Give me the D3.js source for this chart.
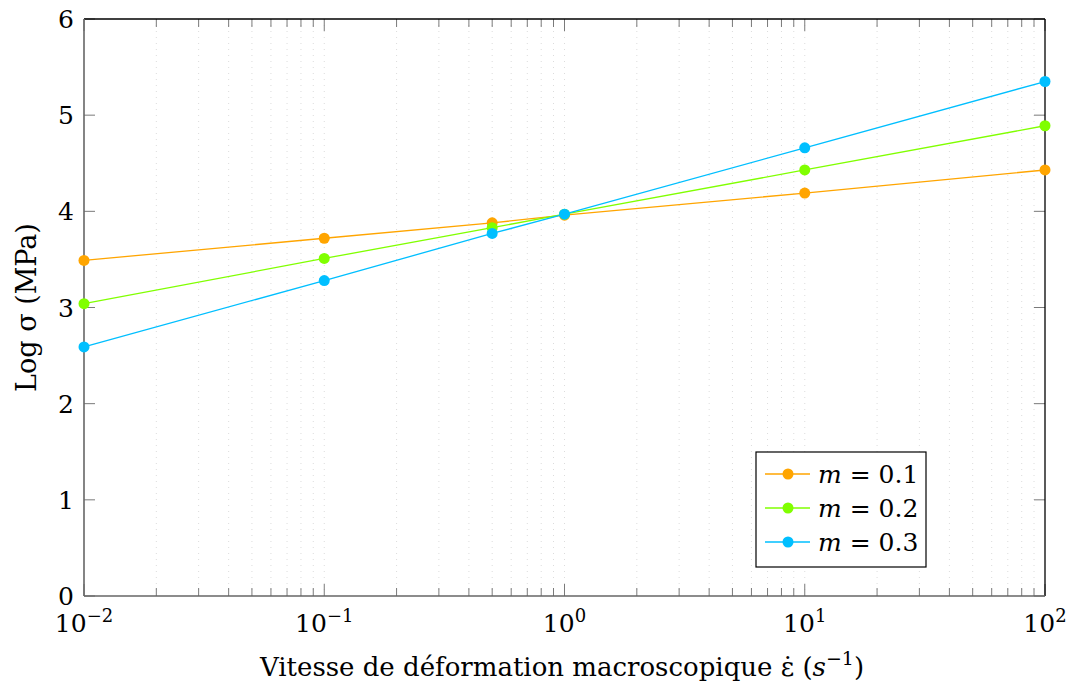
<!DOCTYPE html>
<html lang="fr">
<head>
<meta charset="UTF-8">
<title>Log sigma vs vitesse de deformation</title>
<script src="https://cdn.jsdelivr.net/npm/d3@7"></script>
<style>
  body { margin: 0; background: #fff; }
</style>
</head>
<body>
<div id="chart"></div>
<script>
// data
const strainRates = [0.01, 0.1, 0.5, 1, 10, 100];
const sigmaM01 = [3.49, 3.72, 3.88, 3.96, 4.19, 4.43];
const sigmaM02 = [3.04, 3.51, 3.83, 3.97, 4.43, 4.89];
const sigmaM03 = [2.59, 3.28, 3.77, 3.97, 4.66, 5.35];
const seriesLabels = ["0.1", "0.2", "0.3"];
const seriesColors = ["#ffa500", "#80ff00", "#00bfff"];
const yTicks = [0, 1, 2, 3, 4, 5, 6];
const xDecades = [-2, -1, 0, 1, 2];

const width = 1070, height = 686;
const margin = { top: 19, right: 25, bottom: 90, left: 84 };
const fontFamily = "'DejaVu Serif', 'Liberation Serif', serif";

const svg = d3.select("#chart").append("svg")
  .attr("width", width)
  .attr("height", height)
  .style("display", "block")
  .attr("font-family", fontFamily);

const x = d3.scaleLog().domain([1e-2, 1e2]).range([margin.left, width - margin.right]);
const y = d3.scaleLinear().domain([0, 6]).range([height - margin.bottom, margin.top]);

const x0 = x.range()[0], x1 = x.range()[1];
const y0 = y.range()[0], y1 = y.range()[1];

// minor ticks 2..9 of each decade
const minorTicks = [];
xDecades.slice(0, -1).forEach(d => {
  for (let k = 2; k <= 9; k++) minorTicks.push(k * Math.pow(10, d));
});

// dotted vertical grid
svg.append("g")
  .selectAll("line")
  .data(minorTicks.concat([0.1, 1, 10]))
  .join("line")
  .attr("x1", d => x(d)).attr("x2", d => x(d))
  .attr("y1", y0).attr("y2", y1)
  .attr("stroke", "#dcdcdc")
  .attr("stroke-width", 1)
  .attr("stroke-dasharray", "1,5");

const tickColor = "#7a7a7a";
const ticks = svg.append("g").attr("stroke", tickColor).attr("stroke-width", 1);

// x ticks bottom & top
minorTicks.forEach(v => {
  ticks.append("line").attr("x1", x(v)).attr("x2", x(v)).attr("y1", y0).attr("y2", y0 - 8);
  ticks.append("line").attr("x1", x(v)).attr("x2", x(v)).attr("y1", y1).attr("y2", y1 + 8);
});
xDecades.forEach(d => {
  const v = Math.pow(10, d);
  ticks.append("line").attr("x1", x(v)).attr("x2", x(v)).attr("y1", y0).attr("y2", y0 - 12);
  ticks.append("line").attr("x1", x(v)).attr("x2", x(v)).attr("y1", y1).attr("y2", y1 + 12);
});
// y ticks left & right
yTicks.forEach(v => {
  ticks.append("line").attr("x1", x0).attr("x2", x0 + 11).attr("y1", y(v)).attr("y2", y(v));
  ticks.append("line").attr("x1", x1).attr("x2", x1 - 11).attr("y1", y(v)).attr("y2", y(v));
});

// frame: left/bottom grey, top/right black
svg.append("line").attr("x1", x0).attr("x2", x1).attr("y1", y1).attr("y2", y1).attr("stroke", "#000").attr("stroke-width", 1.3);
svg.append("line").attr("x1", x1).attr("x2", x1).attr("y1", y1).attr("y2", y0).attr("stroke", "#000").attr("stroke-width", 1.3);
svg.append("line").attr("x1", x0).attr("x2", x1).attr("y1", y0).attr("y2", y0).attr("stroke", "#666").attr("stroke-width", 1.6);
svg.append("line").attr("x1", x0).attr("x2", x0).attr("y1", y1).attr("y2", y0).attr("stroke", "#666").attr("stroke-width", 1.6);

// tick labels
svg.append("g")
  .selectAll("text")
  .data(yTicks)
  .join("text")
  .attr("x", x0 - 10)
  .attr("y", d => y(d) + 9)
  .attr("text-anchor", "end")
  .attr("font-size", 25)
  .text(d => d);

const xl = svg.append("g")
  .selectAll("text")
  .data(xDecades)
  .join("text")
  .attr("x", d => x(Math.pow(10, d)))
  .attr("y", y0 + 36)
  .attr("text-anchor", "middle")
  .attr("font-size", 25);
xl.append("tspan").text("10");
xl.append("tspan").attr("dy", -10).attr("font-size", 18).text(d => d < 0 ? "\u2212" + (-d) : d);

// axis titles
const xt = svg.append("text")
  .attr("x", 562)
  .attr("y", height - 10)
  .attr("text-anchor", "middle")
  .attr("font-size", 26);
xt.append("tspan").text("Vitesse de déformation macroscopique \u03b5\u0307 (");
xt.append("tspan").attr("font-style", "italic").text("s");
xt.append("tspan").attr("dy", -11).attr("font-size", 19).text("\u22121");
xt.append("tspan").attr("dy", 11).text(")");

svg.append("text")
  .attr("transform", `translate(36,${(y0 + y1) / 2}) rotate(-90)`)
  .attr("text-anchor", "middle")
  .attr("font-size", 27)
  .text("Log \u03c3 (MPa)");

// series
const series = [sigmaM01, sigmaM02, sigmaM03].map((vals, i) => ({
  label: seriesLabels[i],
  color: seriesColors[i],
  points: strainRates.map((r, j) => ({ r, v: vals[j] }))
}));

const line = d3.line().x(d => x(d.r)).y(d => y(d.v));

series.forEach(s => {
  svg.append("path")
    .attr("d", line(s.points))
    .attr("fill", "none")
    .attr("stroke", s.color)
    .attr("stroke-width", 1.3);
  svg.append("g")
    .selectAll("circle")
    .data(s.points)
    .join("circle")
    .attr("cx", d => x(d.r))
    .attr("cy", d => y(d.v))
    .attr("r", 5.5)
    .attr("fill", s.color);
});

// legend
const lg = svg.append("g").attr("transform", "translate(756,452)");
lg.append("rect")
  .attr("width", 170).attr("height", 115)
  .attr("fill", "#fff")
  .attr("stroke", "#000")
  .attr("stroke-width", 1.2);
series.forEach((s, i) => {
  const row = lg.append("g").attr("transform", `translate(0,${22 + i * 34})`);
  row.append("line").attr("x1", 9).attr("x2", 54).attr("stroke", s.color).attr("stroke-width", 1.3);
  row.append("circle").attr("cx", 32).attr("r", 5.5).attr("fill", s.color);
  const t = row.append("text").attr("x", 62).attr("y", 9).attr("font-size", 25);
  t.append("tspan").attr("font-style", "italic").text("m");
  t.append("tspan").text(" = " + s.label);
});
</script>
</body>
</html>
